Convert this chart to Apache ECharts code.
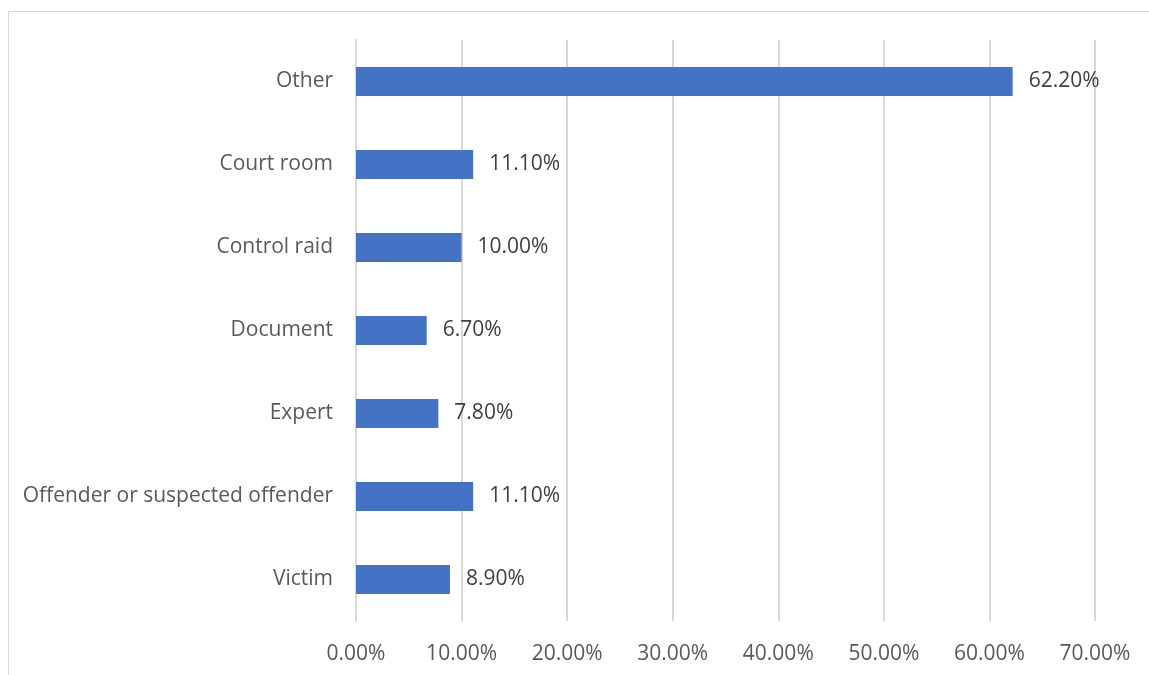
<!DOCTYPE html>
<html>
<head>
<meta charset="utf-8">
<script src="https://cdn.jsdelivr.net/npm/echarts@6/dist/echarts.min.js"></script>
<style>
  html, body { margin: 0; padding: 0; background: #fff; }
  #chart { width: 1149px; height: 675px; }
</style>
</head>
<body>
<div id="chart"></div>
<script>
// Categories listed bottom-to-top (ECharts category y-axis starts at the bottom)
const categories = [
  'Victim',
  'Offender or suspected offender',
  'Expert',
  'Document',
  'Control raid',
  'Court room',
  'Other'
];
// Share of cases, in percent
const shares = [8.9, 11.1, 7.8, 6.7, 10.0, 11.1, 62.2];
// Value axis range and step, in percent
const axisMin = 0;
const axisMax = 70;
const axisStep = 10;

const font = '"Open Sans", "Noto Sans", sans-serif';
const chart = echarts.init(document.getElementById('chart'), null, { renderer: 'canvas' });

chart.setOption({
  animation: false,
  backgroundColor: '#ffffff',
  graphic: [{
    type: 'rect',
    shape: { x: 8.5, y: 11.5, width: 1200, height: 700 },
    style: { fill: 'none', stroke: '#d9d9d9', lineWidth: 1 },
    silent: true
  }],
  grid: { left: 356, right: 54, top: 40, bottom: 54, containLabel: false },
  xAxis: {
    type: 'value',
    min: axisMin,
    max: axisMax,
    interval: axisStep,
    axisLine: { show: false },
    axisTick: { show: false },
    splitLine: { show: true, lineStyle: { color: '#d9d9d9', width: 2 } },
    axisLabel: {
      color: '#595959',
      fontFamily: font,
      fontSize: 21,
      margin: 21,
      padding: [2, 0, 0, 0],
      formatter: v => v.toFixed(2) + '%'
    }
  },
  yAxis: {
    type: 'category',
    data: categories,
    axisLine: { show: true, lineStyle: { color: '#d9d9d9', width: 2 } },
    axisTick: { show: false },
    axisLabel: {
      color: '#595959',
      fontFamily: font,
      fontSize: 21,
      margin: 23,
      padding: [4, 0, 0, 0]
    }
  },
  series: [{
    type: 'bar',
    data: shares,
    barWidth: 29,
    itemStyle: { color: '#4472C4' },
    label: {
      show: true,
      position: 'right',
      distance: 16,
      color: '#404040',
      fontFamily: font,
      fontSize: 21,
      padding: [4, 0, 0, 0],
      formatter: p => p.value.toFixed(2) + '%'
    }
  }]
});
</script>
</body>
</html>
